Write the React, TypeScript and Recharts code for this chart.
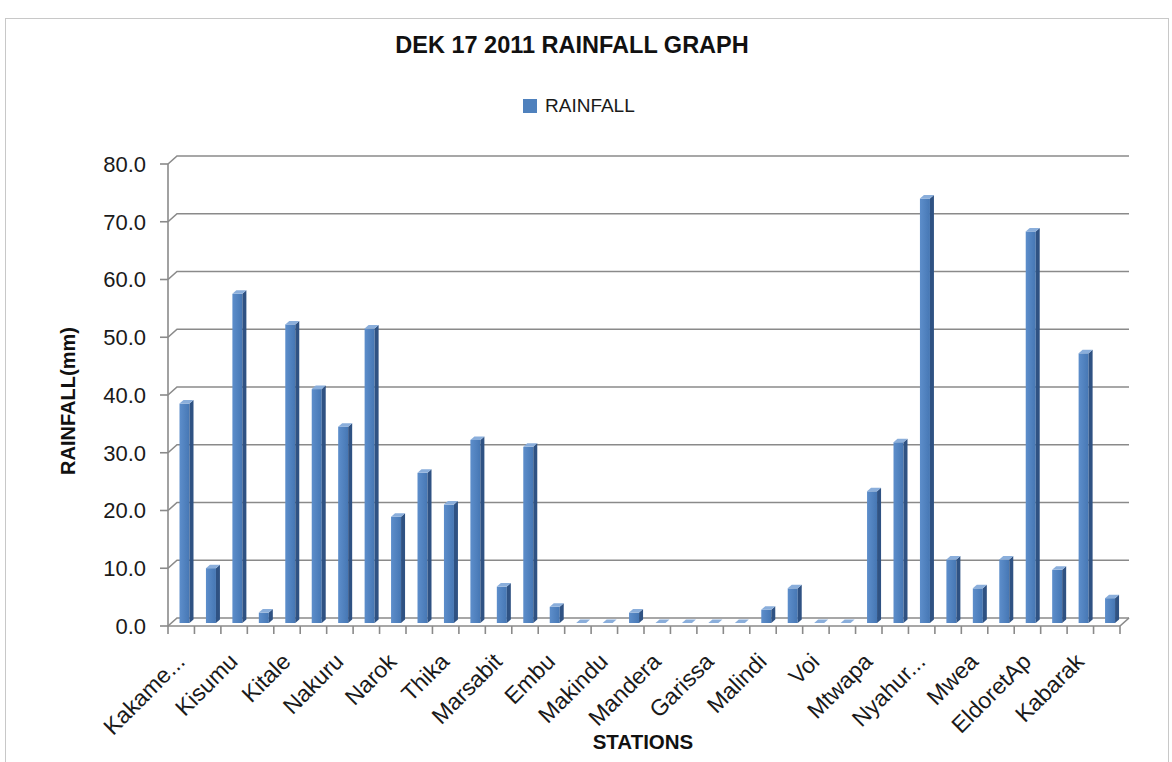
import { Bar, BarChart, CartesianGrid, Legend, XAxis, YAxis } from "recharts";

// station names (only every other one is printed on the axis, as in the original sheet)
const stations = [
  "Kakame...", "Kericho", "Kisumu", "Kisii", "Kitale", "Eldoret", "Nakuru", "Nyeri",
  "Narok", "Meru", "Thika", "Dagoretti", "Marsabit", "Moyale", "Embu", "Machakos",
  "Makindu", "Lodwar", "Mandera", "Wajir", "Garissa", "Lamu", "Malindi", "Mombasa",
  "Voi", "Msabaha", "Mtwapa", "Kabete", "Nyahur...", "Laikipia", "Mwea", "Kitui",
  "EldoretAp", "Kapsabet", "Kabarak", "Naivasha",
];
const rainfall = [
  38.0, 9.5, 57.0, 1.8, 51.7, 40.5, 34.0, 51.0, 18.4, 26.0, 20.5, 31.7,
  6.3, 30.5, 2.8, 0.0, 0.0, 1.8, 0.0, 0.0, 0.0, 0.0, 2.3, 6.0,
  0.0, 0.0, 22.8, 31.3, 73.5, 11.0, 6.0, 11.0, 67.8, 9.2, 46.7, 4.3,
];
const yTicks = [0, 10, 20, 30, 40, 50, 60, 70, 80];

const W = 1172;
const H = 762;
const LEFT = 168;
const RIGHT = 1120;
const TOP = 164;
const BOTTOM = 626;
const DX = 9; // depth of the 3d walls
const DY = 8;
const BAND = (RIGHT - LEFT) / stations.length;
const FONT = "'Liberation Sans', Arial, sans-serif";
const GRID = "#8a8a8a";

const data = stations.map((s, i) => ({ station: s, rainfall: rainfall[i] }));

function Bar3D(props: any) {
  const { x, y, width, height } = props;
  const fx = x + 3.5;
  const fy = y - 3;
  const h = Math.max(height || 0, 0);
  const d = 4;
  const dy = 3.5;
  return (
    <g>
      <rect x={fx} y={fy} width={width} height={h} fill="url(#barFront)" />
      <polygon
        points={`${fx + width},${fy} ${fx + width + d},${fy - dy} ${fx + width + d},${fy + h - dy} ${fx + width},${fy + h}`}
        fill="#2f5283"
      />
      <polygon
        points={`${fx},${fy} ${fx + d},${fy - dy} ${fx + width + d},${fy - dy} ${fx + width},${fy}`}
        fill="#8aaedb"
      />
    </g>
  );
}

function GridLine(p: any) {
  const { x1, y1, x2 } = p;
  return (
    <path
      key={`g-${y1}`}
      d={`M${x1},${y1} L${x1 + DX},${y1 - DY} L${x2 + DX},${y1 - DY}`}
      stroke={GRID}
      strokeWidth={1.6}
      fill="none"
    />
  );
}

function StationTick(props: any) {
  const { x, index, payload } = props;
  const left = x - BAND / 2;
  const right = x + BAND / 2;
  const last = index === stations.length - 1;
  const ax = x + 5;
  const ay = BOTTOM + 37;
  return (
    <g>
      <line x1={left} y1={BOTTOM} x2={left} y2={BOTTOM + 8} stroke={GRID} strokeWidth={1.6} />
      {last && (
        <>
          <line x1={right} y1={BOTTOM} x2={right} y2={BOTTOM + 8} stroke={GRID} strokeWidth={1.6} />
          <line x1={right} y1={BOTTOM} x2={right + DX} y2={BOTTOM - DY} stroke={GRID} strokeWidth={1.6} />
        </>
      )}
      {index % 2 === 0 && (
        <text
          x={ax}
          y={ay}
          transform={`rotate(-45 ${ax} ${ay})`}
          textAnchor="end"
          fontSize={23}
          fontFamily={FONT}
          fill="#1a1a1a"
        >
          {payload.value}
        </text>
      )}
    </g>
  );
}

function LegendBox() {
  return (
    <div style={{ display: "flex", alignItems: "center", fontFamily: FONT }}>
      <span style={{ display: "inline-block", width: 14, height: 14, background: "#4F81BD", marginRight: 8 }} />
      <span style={{ fontSize: 19, color: "#1a1a1a" }}>RAINFALL</span>
    </div>
  );
}

export default function App() {
  return (
    <div style={{ position: "relative", width: W, height: H, background: "#fff" }}>
      <style>{"body{margin:0}"}</style>
      <div
        style={{
          position: "absolute",
          left: 5,
          top: 18,
          width: 1162,
          height: H - 18,
          borderLeft: "1px solid #c8c8c8",
          borderTop: "1px solid #c8c8c8",
          borderRight: "1px solid #c8c8c8",
        }}
      />
      <div
        style={{
          position: "absolute",
          left: 0,
          width: 1144,
          top: 32,
          textAlign: "center",
          fontFamily: FONT,
          fontWeight: "bold",
          fontSize: 23.5,
          color: "#111",
        }}
      >
        DEK 17 2011 RAINFALL GRAPH
      </div>
      <BarChart
        width={W}
        height={H}
        data={data}
        margin={{ top: TOP, right: W - RIGHT, left: 0, bottom: 0 }}
        style={{ position: "absolute", left: 0, top: 0 }}
      >
        <defs>
          <linearGradient id="barFront" x1="0" y1="0" x2="1" y2="0">
            <stop offset="0%" stopColor="#5d8ecb" />
            <stop offset="100%" stopColor="#4677b4" />
          </linearGradient>
        </defs>
        <CartesianGrid vertical={false} horizontal={(p: any) => <GridLine {...p} />} />
        <YAxis
          width={LEFT}
          domain={[0, 80]}
          ticks={yTicks}
          interval={0}
          tickFormatter={(v: number) => v.toFixed(1)}
          axisLine={{ stroke: GRID, strokeWidth: 1.6 }}
          tickLine={{ stroke: GRID, strokeWidth: 1.6 }}
          tickSize={8}
          tickMargin={14}
          tick={{ fontSize: 22, fill: "#1a1a1a", fontFamily: FONT }}
          label={{
            content: () => (
              <text
                x={75}
                y={401}
                transform="rotate(-90 75 401)"
                textAnchor="middle"
                fontSize={20}
                fontWeight="bold"
                fontFamily={FONT}
                fill="#111"
              >
                RAINFALL(mm)
              </text>
            ),
          }}
        />
        <XAxis
          dataKey="station"
          height={H - BOTTOM}
          interval={0}
          axisLine={{ stroke: GRID, strokeWidth: 1.6 }}
          tickLine={false}
          tick={<StationTick />}
          label={{
            content: () => (
              <text x={643} y={749} textAnchor="middle" fontSize={20.5} fontWeight="bold" fontFamily={FONT} fill="#111">
                STATIONS
              </text>
            ),
          }}
        />
        <Legend
          layout="horizontal"
          verticalAlign="middle"
          wrapperStyle={{ top: 95, left: 523, width: 200 }}
          content={() => <LegendBox />}
        />
        <Bar dataKey="rainfall" name="RAINFALL" barSize={10} shape={<Bar3D />} isAnimationActive={false} />
      </BarChart>
    </div>
  );
}
